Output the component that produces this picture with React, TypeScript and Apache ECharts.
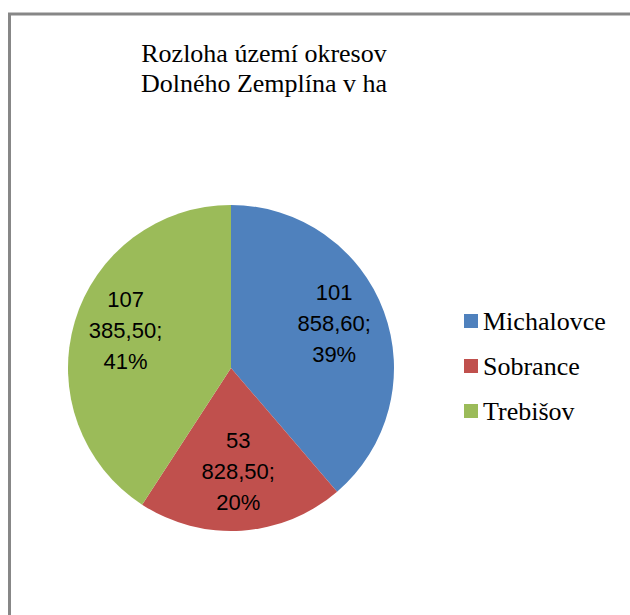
import { useEffect, useRef } from 'react';
import * as echarts from 'echarts';

const categories = ['Michalovce', 'Sobrance', 'Trebišov'];
const values = [101858.6, 53828.5, 107385.5];
const colors = ['#4F81BD', '#C0504D', '#9BBB59'];
const titleText = 'Rozloha území okresov\nDolného Zemplína v ha';

function fmtValue(v: number): string {
  const [i, d] = v.toFixed(2).split('.');
  const intStr = i.replace(/\B(?=(\d{3})+(?!\d))/g, ' ');
  return intStr + ',' + d;
}

export default function App() {
  const ref = useRef<HTMLDivElement>(null);

  useEffect(() => {
    if (!ref.current) return;
    const chart = echarts.init(ref.current, undefined, { renderer: 'svg' });
    const data = categories.map((name, i) => ({
      name,
      value: values[i],
      itemStyle: { color: colors[i] },
    }));
    chart.setOption({
      animation: false,
      backgroundColor: '#ffffff',
      graphic: [
        {
          type: 'rect',
          shape: { x: 9.5, y: 14, width: 800, height: 800 },
          style: { fill: 'none', stroke: '#878787', lineWidth: 3 },
          silent: true,
        },
      ],
      title: {
        text: titleText,
        left: 264,
        top: 38,
        padding: 0,
        textAlign: 'center',
        textStyle: {
          fontFamily: 'Liberation Serif',
          fontSize: 26,
          fontWeight: 'normal',
          color: '#000000',
          lineHeight: 30,
        },
      },
      legend: {
        orient: 'vertical',
        left: 464,
        top: 308,
        padding: 0,
        itemWidth: 14,
        itemHeight: 14,
        itemGap: 19,
        icon: 'rect',
        data: categories.map((name, i) => ({ name, itemStyle: { color: colors[i] } })),
        textStyle: {
          fontFamily: 'Liberation Serif',
          fontSize: 26,
          lineHeight: 26,
          color: '#000000',
        },
      },
      series: [
        {
          type: 'pie',
          center: [231, 368],
          radius: [0, 163],
          startAngle: 90,
          clockwise: true,
          silent: true,
          label: { show: false },
          labelLine: { show: false },
          itemStyle: { borderWidth: 0 },
          data,
        },
        {
          type: 'pie',
          center: [231, 362],
          radius: [0, 214],
          startAngle: 90,
          clockwise: true,
          silent: true,
          legendHoverLink: false,
          itemStyle: { color: 'transparent', borderWidth: 0 },
          label: {
            show: true,
            position: 'inside',
            fontFamily: 'Liberation Sans',
            fontSize: 22,
            lineHeight: 31,
            color: '#000000',
            align: 'center',
            formatter: (p: any) =>
              fmtValue(p.value).replace(' ', '\n') + ';\n' + Math.round(p.percent) + '%',
          },
          labelLine: { show: false },
          data: categories.map((name, i) => ({ name, value: values[i] })),
        },
      ],
    });
    return () => chart.dispose();
  }, []);

  return (
    <div
      ref={ref}
      style={{ position: 'absolute', left: 0, top: 0, width: 630, height: 615 }}
    />
  );
}
